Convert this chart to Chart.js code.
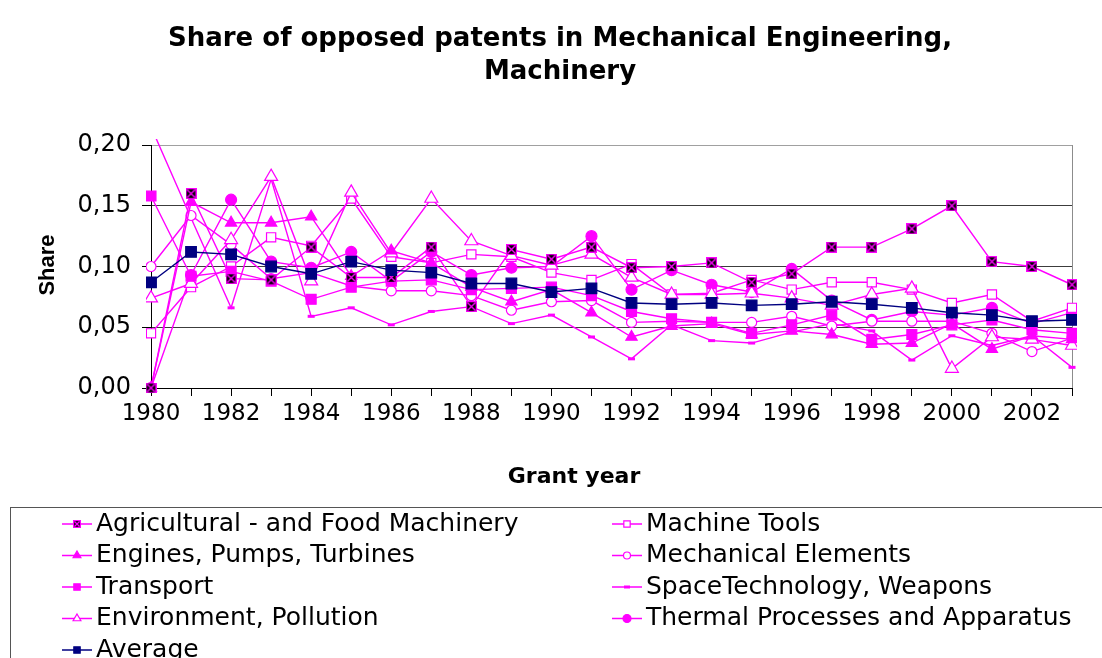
<!DOCTYPE html>
<html>
<head>
<meta charset="utf-8">
<title>Share of opposed patents in Mechanical Engineering, Machinery</title>
<script src="https://cdn.jsdelivr.net/npm/chart.js@4.4.1/dist/chart.umd.min.js"></script>
<style>
  html, body { margin: 0; padding: 0; background: #fff; }
  canvas { display: block; }
</style>
</head>
<body>
<canvas id="chart" width="1102" height="658"></canvas>
<script>
// Grant years (category axis) and the y tick values
const years = ['1980', '1981', '1982', '1983', '1984', '1985', '1986', '1987', '1988', '1989', '1990', '1991',
  '1992', '1993', '1994', '1995', '1996', '1997', '1998', '1999', '2000', '2001', '2002', '2003'];
const yTickValues = [0, 0.05, 0.10, 0.15, 0.20];

// Share of opposed patents per field
const agriculturalFood = [0.000, 0.160, 0.090, 0.089, 0.116, 0.091, 0.091, 0.116, 0.067, 0.114, 0.106, 0.116,
  0.099, 0.100, 0.103, 0.087, 0.094, 0.116, 0.116, 0.131, 0.150, 0.104, 0.100, 0.085];
const machineTools = [0.045, 0.083, 0.100, 0.124, 0.117, 0.156, 0.108, 0.103, 0.110, 0.108, 0.095, 0.089,
  0.102, 0.077, 0.078, 0.089, 0.081, 0.087, 0.087, 0.081, 0.070, 0.077, 0.055, 0.066];
const enginesPumps = [0.000, 0.153, 0.136, 0.136, 0.141, 0.092, 0.113, 0.103, 0.083, 0.071, 0.081, 0.062,
  0.042, 0.051, 0.053, 0.044, 0.047, 0.044, 0.036, 0.037, 0.053, 0.032, 0.043, 0.040];
const mechanicalElements = [0.100, 0.142, 0.118, 0.090, 0.095, 0.084, 0.080, 0.080, 0.076, 0.064, 0.071, 0.072,
  0.054, 0.055, 0.054, 0.054, 0.059, 0.051, 0.055, 0.055, 0.055, 0.045, 0.030, 0.041];
const transport = [0.158, 0.092, 0.096, 0.088, 0.073, 0.083, 0.088, 0.089, 0.081, 0.082, 0.083, 0.076,
  0.063, 0.057, 0.054, 0.045, 0.052, 0.060, 0.040, 0.044, 0.052, 0.056, 0.048, 0.045];
const spaceWeapons = [0.215, 0.140, 0.066, 0.172, 0.059, 0.066, 0.052, 0.063, 0.067, 0.053, 0.060, 0.042,
  0.024, 0.052, 0.039, 0.037, 0.046, 0.053, 0.047, 0.023, 0.043, 0.035, 0.043, 0.017];
const environment = [0.074, 0.086, 0.122, 0.174, 0.088, 0.161, 0.111, 0.156, 0.121, 0.109, 0.101, 0.110,
  0.091, 0.077, 0.077, 0.078, 0.074, 0.068, 0.077, 0.082, 0.016, 0.042, 0.040, 0.035];
const thermalProcesses = [0.000, 0.093, 0.155, 0.104, 0.099, 0.112, 0.088, 0.112, 0.093, 0.099, 0.100, 0.125,
  0.081, 0.097, 0.085, 0.079, 0.098, 0.072, 0.056, 0.063, 0.060, 0.066, 0.053, 0.062];
const average = [0.087, 0.112, 0.110, 0.100, 0.094, 0.104, 0.097, 0.095, 0.086, 0.086, 0.079, 0.082,
  0.070, 0.069, 0.070, 0.068, 0.069, 0.071, 0.069, 0.066, 0.062, 0.060, 0.055, 0.056];

const MAGENTA = '#ff00ff';
const NAVY = '#000080';
const FONT = "'DejaVu Sans', sans-serif";

// black square with a magenta cross, as Excel draws it
function crossBox(size) {
  const c = document.createElement('canvas');
  c.width = size;
  c.height = size;
  const g = c.getContext('2d');
  g.fillStyle = '#000';
  g.fillRect(0, 0, size, size);
  g.strokeStyle = MAGENTA;
  g.lineWidth = 1.4;
  g.strokeRect(0.5, 0.5, size - 1, size - 1);
  g.beginPath();
  g.moveTo(1.5, 1.5);
  g.lineTo(size - 1.5, size - 1.5);
  g.moveTo(size - 1.5, 1.5);
  g.lineTo(1.5, size - 1.5);
  g.stroke();
  return c;
}

function series(label, data, marker, extra) {
  return Object.assign({
    label,
    data,
    borderColor: MAGENTA,
    borderWidth: 1.4,
    backgroundColor: MAGENTA,
    pointBorderColor: MAGENTA,
    pointBackgroundColor: MAGENTA,
    pointBorderWidth: 1.2,
    pointStyle: marker.style,
    pointRadius: marker.radius,
    legendRadius: marker.legendRadius,
    legendStyle: marker.legendStyle || marker.style,
    tension: 0,
    clip: { left: 5, right: 5, top: 6, bottom: 5 },
  }, extra || {});
}

// listed in legend order (two columns, row by row)
const datasets = [
  series('Agricultural - and Food Machinery', agriculturalFood,
    { style: crossBox(11), radius: 6, legendStyle: crossBox(8), legendRadius: 4 }, { order: 1 }),
  series('Machine Tools', machineTools,
    { style: 'rect', radius: 6.5, legendRadius: 4.5 }, { pointBackgroundColor: '#fff', order: 5 }),
  series('Engines, Pumps, Turbines', enginesPumps,
    { style: 'triangle', radius: 6.5, legendRadius: 4.5 }, { order: 2 }),
  series('Mechanical Elements', mechanicalElements,
    { style: 'circle', radius: 5, legendRadius: 3.5 }, { pointBackgroundColor: '#fff', order: 6 }),
  series('Transport', transport,
    { style: 'rect', radius: 7, legendRadius: 4.5 }, { order: 3 }),
  series('SpaceTechnology, Weapons', spaceWeapons,
    { style: 'line', radius: 3.5, legendRadius: 3 }, { pointBorderWidth: 3, order: 7 }),
  series('Environment, Pollution', environment,
    { style: 'triangle', radius: 7.5, legendRadius: 4.5 }, { pointBackgroundColor: '#fff', order: 4 }),
  series('Thermal Processes and Apparatus', thermalProcesses,
    { style: 'circle', radius: 5.5, legendRadius: 4 }, { order: 8 }),
  series('Average', average,
    { style: 'rect', radius: 7.5, legendRadius: 4.5 },
    { borderColor: NAVY, backgroundColor: NAVY, pointBorderColor: NAVY, pointBackgroundColor: NAVY, order: 0 }),
];

// axis titles, plot frame and the boxed two-column legend
const decorPlugin = {
  id: 'decor',
  beforeDatasetsDraw(chart) {
    const { ctx, chartArea } = chart;
    ctx.save();
    ctx.strokeStyle = '#8c8c8c';
    ctx.lineWidth = 1;
    ctx.beginPath();
    ctx.moveTo(Math.round(chartArea.right) + 0.5, chartArea.top);
    ctx.lineTo(Math.round(chartArea.right) + 0.5, chartArea.bottom);
    ctx.stroke();
    ctx.restore();
  },
  afterDraw(chart) {
    const { ctx } = chart;
    ctx.save();
    ctx.fillStyle = '#000';

    ctx.font = `bold 22px ${FONT}`;
    ctx.textAlign = 'center';
    ctx.textBaseline = 'alphabetic';
    ctx.fillText('Grant year', 574, 483);

    ctx.save();
    ctx.translate(54, 265);
    ctx.rotate(-Math.PI / 2);
    ctx.font = "bold 22px 'Liberation Sans', Arial, sans-serif";
    ctx.fillText('Share', 0, 0);
    ctx.restore();

    ctx.strokeStyle = '#555';
    ctx.lineWidth = 1;
    ctx.strokeRect(10.5, 507.5, 1110, 200);

    ctx.font = `25px ${FONT}`;
    ctx.textAlign = 'left';
    ctx.textBaseline = 'middle';
    chart.data.datasets.forEach((ds, i) => {
      const x0 = i % 2 === 0 ? 62 : 612;
      const y = 524 + Math.floor(i / 2) * 31.5;
      ctx.strokeStyle = ds.borderColor;
      ctx.lineWidth = 1.5;
      ctx.beginPath();
      ctx.moveTo(x0, y);
      ctx.lineTo(x0 + 30, y);
      ctx.stroke();
      ctx.fillStyle = ds.pointBackgroundColor;
      ctx.strokeStyle = ds.pointBorderColor;
      ctx.lineWidth = ds.pointBorderWidth;
      Chart.helpers.drawPoint(ctx, {
        pointStyle: ds.legendStyle,
        radius: ds.legendRadius,
        borderWidth: ds.pointBorderWidth,
        rotation: 0,
      }, x0 + 15, y);
      ctx.fillStyle = '#000';
      ctx.fillText(ds.label, x0 + 34, y);
    });
    ctx.restore();
  },
};

new Chart(document.getElementById('chart'), {
  type: 'line',
  data: { labels: years, datasets },
  plugins: [decorPlugin],
  options: {
    responsive: false,
    animation: false,
    devicePixelRatio: 1,
    layout: { padding: { left: 48, right: 30, top: 0, bottom: 230 } },
    plugins: {
      legend: { display: false },
      tooltip: { enabled: false },
      title: {
        display: true,
        text: ['Share of opposed patents in Mechanical Engineering,', 'Machinery'],
        color: '#000',
        font: { family: FONT, size: 26, weight: 'bold', lineHeight: 1.27 },
        padding: { top: 23, bottom: 56 },
      },
    },
    scales: {
      x: {
        offset: false,
        afterFit: (scale) => { scale.height = 40; },
        border: { display: true, color: '#000', width: 1 },
        grid: { drawOnChartArea: false, drawTicks: true, tickLength: 8, tickColor: '#000', offset: false },
        ticks: {
          autoSkip: false,
          maxRotation: 0,
          padding: 4,
          color: '#000',
          font: { family: FONT, size: 23 },
          callback: (value, index) => (index % 2 === 0 ? years[index] : ''),
        },
      },
      y: {
        min: 0,
        max: 0.2,
        afterFit: (scale) => { scale.width = 103; },
        afterBuildTicks: (scale) => { scale.ticks = yTickValues.map((v) => ({ value: v })); },
        border: { display: true, color: '#000', width: 1 },
        grid: {
          color: (c) => (c.tick && c.tick.value >= 0.2 ? '#a0a0a0' : '#3c3c3c'),
          lineWidth: 1,
          tickLength: 9,
          tickColor: '#000',
        },
        ticks: {
          padding: 11,
          color: '#000',
          font: { family: FONT, size: 24 },
          callback: (value) => Number(value).toFixed(2).replace('.', ','),
        },
      },
    },
  },
});
</script>
</body>
</html>
